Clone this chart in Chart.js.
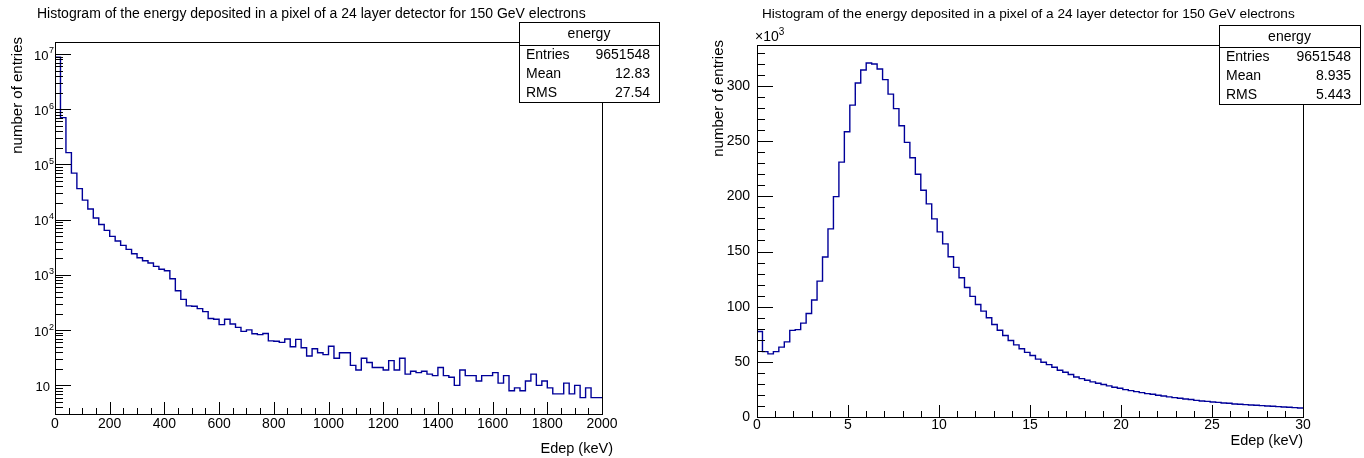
<!DOCTYPE html>
<html>
<head>
<meta charset="utf-8">
<title>Edep histograms</title>
<script src="https://cdn.jsdelivr.net/npm/chart.js@4.4.1/dist/chart.umd.min.js"></script>
<style>
  html, body { margin: 0; padding: 0; background: #fff; }
  #wrap { position: relative; width: 1364px; height: 458px; overflow: hidden; }
  canvas { position: absolute; top: 0; }
</style>
</head>
<body>
<div id="wrap">
  <canvas id="edepFull" width="682" height="458" style="left:0"></canvas>
  <canvas id="edepLow" width="682" height="458" style="left:682px"></canvas>
</div>
<script>
"use strict";

// --- data: 100 bins of 20 keV (0-2000 keV)
const fullBinWidth = 20;
const fullCounts = [
    8800000, 705000, 164000, 69800, 36500, 22600, 15600, 10700, 8200, 6400,
    4980, 4100, 3420, 2900, 2420, 2050, 1810, 1640, 1430, 1270,
    1190, 853, 517, 361, 275, 270, 245, 216, 162, 157,
    126, 157, 129, 112, 95, 101, 86, 83, 87, 64,
    63, 60, 69, 50, 68, 48, 34, 46, 39, 36,
    51, 31, 39, 39, 23, 19, 31, 26, 21, 21,
    19, 28, 19, 31, 16, 18, 17, 18, 16, 15,
    21, 15, 14, 10, 19, 15, 15, 12, 15, 15,
    17, 11, 15, 8, 9, 8, 12, 16, 10, 12,
    9, 7, 7, 11, 7, 10, 6, 9, 6, 6,
];

// --- data: 100 bins of 0.3 keV (0-30 keV), counts in units of 10^3
const lowBinWidth = 0.3;
const lowCountsK = [
    77.5, 59.3, 57.2, 59.3, 63.3, 68.1, 78.5, 79.2, 85.1, 93.8,
    106, 123.2, 145, 170.5, 199.8, 231, 258.6, 282.7, 302.7, 314.5,
    320.9, 320, 315.4, 305.8, 292.7, 279.5, 264, 248.9, 235, 220.1,
    205.5, 193.2, 179.6, 167.8, 156.9, 145.3, 135.6, 126.2, 117.4, 109.3,
    102, 96, 89.9, 83.8, 78.7, 73.9, 69.3, 65.4, 61.8, 58.6,
    55.7, 52.5, 49.6, 47.5, 45.1, 42.4, 40.6, 38.5, 36.3, 34.8,
    33.3, 31.8, 30.6, 29.4, 28.2, 27, 26, 24.8, 23.9, 23,
    22.1, 21.2, 20.6, 19.7, 19.1, 18.2, 17.6, 17, 16.3, 15.8,
    15.1, 14.5, 14.2, 13.6, 13.3, 12.7, 12.4, 11.8, 11.5, 11.2,
    10.9, 10.6, 10.3, 10, 9.7, 9.4, 9.1, 8.8, 8.5, 8.2,
];

// --- axis labels
const fullXTicks = [0, 200, 400, 600, 800, 1000, 1200, 1400, 1600, 1800, 2000];
const fullYExps = [1, 2, 3, 4, 5, 6, 7];
const lowXTicks = [0, 5, 10, 15, 20, 25, 30];
const lowYTicks = [0, 50, 100, 150, 200, 250, 300];

const titleText =
    "Histogram of the energy deposited in a pixel of a 24 layer detector for 150 GeV electrons";
const statsName = "energy";
const fullStats = [["Entries", "9651548"], ["Mean", "12.83"], ["RMS", "27.54"]];
const lowStats = [["Entries", "9651548"], ["Mean", "8.935"], ["RMS", "5.443"]];

const FONT = "'Liberation Sans', Arial, Helvetica, sans-serif";
const LINE_BLUE = "#000099";

// histogram outline: one point per lower bin edge plus the closing edge
function stepPoints(counts, width) {
    const pts = counts.map((c, i) => ({ x: +(i * width).toFixed(4), y: c }));
    pts.push({ x: +(counts.length * width).toFixed(4), y: counts[counts.length - 1] });
    return pts;
}

function crisp(v) {
    return Math.round(v) + 0.5;
}

function drawSupLabel(ctx, base, exp, xRight, y, size) {
    ctx.font = `${size - 4}px ${FONT}`;
    const ew = ctx.measureText(exp).width;
    ctx.textAlign = "left";
    ctx.fillText(exp, xRight - ew, y - 5);
    ctx.font = `${size}px ${FONT}`;
    ctx.textAlign = "right";
    ctx.fillText(base, xRight - ew - 0.5, y);
}

// ROOT-like frame: inward ticks, labels, titles and the stats box
const rootFrame = {
    id: "rootFrame",
    afterDraw(chart, args, o) {
        const { ctx, chartArea: a } = chart;
        const xs = chart.scales.x;
        const ys = chart.scales.y;
        ctx.save();
        ctx.strokeStyle = "#000";
        ctx.fillStyle = "#000";
        ctx.lineWidth = 1;

        // frame
        ctx.strokeRect(crisp(a.left), crisp(a.top),
            Math.round(a.right) - Math.round(a.left), Math.round(a.bottom) - Math.round(a.top));

        // x ticks
        ctx.beginPath();
        const nx = Math.round((xs.max - xs.min) / o.xMinor);
        for (let i = 0; i <= nx; i++) {
            const v = xs.min + i * o.xMinor;
            const px = crisp(xs.getPixelForValue(v));
            const major = o.xTicks.some((t) => Math.abs(t - v) < 1e-6);
            ctx.moveTo(px, Math.round(a.bottom));
            ctx.lineTo(px, Math.round(a.bottom) - (major ? 12 : 6));
        }
        // y ticks
        if (o.log) {
            const e0 = Math.floor(Math.log10(ys.min));
            const e1 = Math.ceil(Math.log10(ys.max));
            for (let e = e0; e <= e1; e++) {
                for (let m = 1; m <= 9; m++) {
                    const v = m * Math.pow(10, e);
                    if (v < ys.min || v > ys.max) continue;
                    const py = crisp(ys.getPixelForValue(v));
                    ctx.moveTo(Math.round(a.left), py);
                    ctx.lineTo(Math.round(a.left) + (m === 1 ? 16 : 8), py);
                }
            }
        } else {
            const ny = Math.floor((ys.max - ys.min) / o.yMinor);
            for (let i = 0; i <= ny; i++) {
                const v = ys.min + i * o.yMinor;
                const py = crisp(ys.getPixelForValue(v));
                const major = o.yTicks.some((t) => Math.abs(t - v) < 1e-6);
                ctx.moveTo(Math.round(a.left), py);
                ctx.lineTo(Math.round(a.left) + (major ? 16 : 8), py);
            }
        }
        ctx.stroke();

        // x labels
        ctx.font = `${o.tickSize}px ${FONT}`;
        ctx.textAlign = "center";
        ctx.textBaseline = "middle";
        o.xTicks.forEach((t) => {
            ctx.fillText(String(t), xs.getPixelForValue(t), a.bottom + o.xLabelGap);
        });

        // y labels
        if (o.log) {
            o.yExps.forEach((e) => {
                const py = ys.getPixelForValue(Math.pow(10, e));
                if (e === 1) {
                    ctx.font = `${o.yTickSize}px ${FONT}`;
                    ctx.textAlign = "right";
                    ctx.fillText("10", a.left - 5, py + 2);
                } else {
                    drawSupLabel(ctx, "10", String(e), a.left - 1, py + 2, o.yTickSize);
                }
            });
        } else {
            ctx.textAlign = "right";
            o.yTicks.forEach((t) => {
                ctx.fillText(String(t), a.left - 7, ys.getPixelForValue(t));
            });
            if (o.yMultiplier) {
                ctx.textAlign = "left";
                ctx.fillText("\u00d710", a.left - 2, a.top - 8);
                const w = ctx.measureText("\u00d710").width;
                ctx.font = `${o.tickSize - 4}px ${FONT}`;
                ctx.fillText(o.yMultiplier, a.left - 2 + w, a.top - 13);
            }
        }

        // axis titles
        ctx.font = `${o.xTitleSize}px ${FONT}`;
        ctx.textAlign = "right";
        ctx.fillText("Edep (keV)", a.right + o.xTitleDx, a.bottom + o.xTitleGap);
        ctx.save();
        ctx.font = `${o.yTitleSize}px ${FONT}`;
        ctx.translate(o.yTitleX, a.top - 5);
        ctx.rotate(-Math.PI / 2);
        ctx.textAlign = "right";
        ctx.fillText("number of entries", 0, 0);
        ctx.restore();

        // histogram title
        ctx.font = `${o.headSize}px ${FONT}`;
        ctx.textAlign = "left";
        ctx.fillText(titleText, o.headX, 14);

        // stats box
        const b = o.box;
        ctx.fillStyle = "#fff";
        ctx.fillRect(b.x, b.y, b.w, b.h);
        ctx.strokeRect(b.x + 0.5, b.y + 0.5, b.w, b.h);
        ctx.beginPath();
        ctx.moveTo(b.x, b.y + b.head + 0.5);
        ctx.lineTo(b.x + b.w, b.y + b.head + 0.5);
        ctx.stroke();
        ctx.fillStyle = "#000";
        ctx.font = `${o.statSize}px ${FONT}`;
        ctx.textAlign = "center";
        ctx.fillText(statsName, b.x + b.w / 2, b.y + b.head / 2 + 1);
        o.stats.forEach((row, i) => {
            const ry = b.y + b.head + b.row * (i + 0.5) + 1;
            ctx.textAlign = "left";
            ctx.fillText(row[0], b.x + 7, ry);
            ctx.textAlign = "right";
            ctx.fillText(row[1], b.x + b.w - 9, ry);
        });
        ctx.restore();
    },
};

function makeHist(id, pts, xScale, yScale, padding, frame) {
    return new Chart(document.getElementById(id), {
        type: "line",
        data: {
            datasets: [
                {
                    data: pts,
                    stepped: true,
                    borderColor: LINE_BLUE,
                    borderWidth: 1.4,
                    pointRadius: 0,
                    fill: false,
                },
            ],
        },
        options: {
            responsive: false,
            animation: false,
            events: [],
            layout: { padding },
            plugins: {
                legend: { display: false },
                tooltip: { enabled: false },
                rootFrame: frame,
            },
            scales: { x: xScale, y: yScale },
        },
        plugins: [rootFrame],
    });
}

// --- full range, log scale
makeHist(
    "edepFull",
    stepPoints(fullCounts, fullBinWidth),
    { type: "linear", display: false, min: 0, max: 2000 },
    { type: "logarithmic", display: false, min: 3.03, max: 1.65e7 },
    { left: 55, right: 80, top: 42, bottom: 44 },
    {
        log: true,
        xTicks: fullXTicks,
        xMinor: 50,
        yExps: fullYExps,
        tickSize: 14,
        yTickSize: 13,
        xTitleSize: 14.5,
        yTitleSize: 15,
        headSize: 14,
        statSize: 14,
        xLabelGap: 10,
        xTitleGap: 35,
        xTitleDx: 11,
        yTitleX: 18,
        headX: 37,
        stats: fullStats,
        box: { x: 519, y: 22, w: 140, h: 80, head: 23, row: 19 },
    }
);

// --- 0-30 keV, linear scale in units of 10^3
makeHist(
    "edepLow",
    stepPoints(lowCountsK, lowBinWidth),
    { type: "linear", display: false, min: 0, max: 30 },
    { type: "linear", display: false, min: 0, max: 337.2 },
    { left: 75, right: 61, top: 45, bottom: 41 },
    {
        log: false,
        xTicks: lowXTicks,
        xMinor: 1,
        yTicks: lowYTicks,
        yMinor: 10,
        yMultiplier: "3",
        tickSize: 14,
        yTickSize: 14,
        xTitleSize: 14.5,
        yTitleSize: 15,
        headSize: 13.6,
        statSize: 14,
        xLabelGap: 8,
        xTitleGap: 24,
        xTitleDx: 0,
        yTitleX: 37,
        headX: 80,
        stats: lowStats,
        box: { x: 537, y: 25, w: 141, h: 79, head: 22, row: 19 },
    }
);
</script>
</body>
</html>
